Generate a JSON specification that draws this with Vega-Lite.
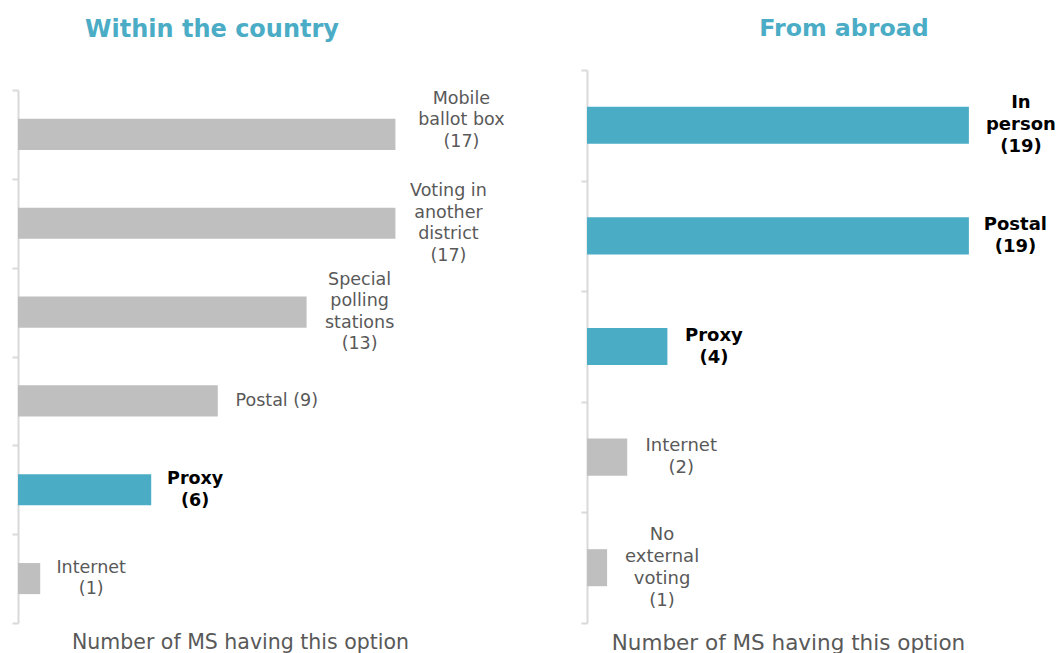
{
  "$schema": "https://vega.github.io/schema/vega-lite/v6.json",
  "background": "white",
  "padding": {"left": 11, "top": 17, "right": 0, "bottom": 0},
  "config": {
    "font": "DejaVu Sans",
    "view": {"stroke": null},
    "axisY": {
      "labels": false,
      "title": null,
      "domainColor": "#D9D9D9",
      "domainWidth": 2,
      "tickColor": "#D9D9D9",
      "tickWidth": 2,
      "tickSize": 6,
      "tickBand": "extent",
      "grid": false
    },
    "axisX": {
      "labels": false,
      "ticks": false,
      "domain": false,
      "grid": false,
      "titleColor": "#595959",
      "titleFontWeight": "normal",
      "titleFont": "DejaVu Sans",
      "titlePadding": 9
    },
    "title": {"color": "#4BACC6", "fontWeight": "bold", "font": "DejaVu Sans", "anchor": "middle", "offset": 28}
  },
  "spacing": 75,
  "datasets": {
    "d": [
      {"panel": "within", "option": "Mobile ballot box", "value": 17, "hl": "no", "label": "Mobile\nballot box\n(17)"},
      {"panel": "within", "option": "Voting in another district", "value": 17, "hl": "no", "label": "Voting in\nanother\ndistrict\n(17)"},
      {"panel": "within", "option": "Special polling stations", "value": 13, "hl": "no", "label": "Special\npolling\nstations\n(13)"},
      {"panel": "within", "option": "Postal", "value": 9, "hl": "no", "label": "Postal (9)"},
      {"panel": "within", "option": "Proxy", "value": 6, "hl": "yes", "label": "Proxy\n(6)"},
      {"panel": "within", "option": "Internet", "value": 1, "hl": "no", "label": "Internet\n(1)"},
      {"panel": "abroad", "option": "In person", "value": 19, "hl": "yes", "label": "In\nperson\n(19)"},
      {"panel": "abroad", "option": "Postal", "value": 19, "hl": "yes", "label": "Postal\n(19)"},
      {"panel": "abroad", "option": "Proxy", "value": 4, "hl": "yes", "label": "Proxy\n(4)"},
      {"panel": "abroad", "option": "Internet", "value": 2, "hl": "no", "label": "Internet\n(2)"},
      {"panel": "abroad", "option": "No external voting", "value": 1, "hl": "no", "label": "No\nexternal\nvoting\n(1)"}
    ]
  },
  "hconcat": [
    {
      "title": {"text": "Within the country", "dx": -28, "fontSize": 24},
      "width": 444,
      "height": 553,
      "data": {"name": "d"},
      "transform": [{"filter": "datum.panel === 'within'"}],
      "encoding": {
        "y": {
          "field": "option",
          "type": "nominal",
          "sort": ["Mobile ballot box", "Voting in another district", "Special polling stations", "Postal", "Proxy", "Internet"],
          "scale": {"paddingInner": 0, "paddingOuter": 0, "range": [20, 553]}
        },
        "x": {
          "field": "value",
          "type": "quantitative",
          "scale": {"domain": [0, 20], "nice": false},
          "axis": {"title": "Number of MS having this option", "titleFontSize": 20.5}
        }
      },
      "layer": [
        {
          "mark": {"type": "bar", "height": {"band": 0.35}},
          "encoding": {
            "color": {"field": "hl", "type": "nominal", "scale": {"domain": ["no", "yes"], "range": ["#BFBFBF", "#4BACC6"]}, "legend": null}
          }
        },
        {
          "transform": [{"filter": "datum.option === 'Postal'"}],
          "mark": {"type": "text", "align": "center", "baseline": "middle", "dx": 59, "dy": 0, "fontSize": 17.5, "lineHeight": 21.5, "lineBreak": "\n", "color": "#595959"},
          "encoding": {"text": {"field": "label"}}
        },
        {
          "transform": [{"filter": "datum.option === 'Internet'"}],
          "mark": {"type": "text", "align": "center", "baseline": "middle", "dx": 51, "dy": -10.75, "fontSize": 17.5, "lineHeight": 21.5, "lineBreak": "\n", "color": "#595959"},
          "encoding": {"text": {"field": "label"}}
        },
        {
          "transform": [{"filter": "datum.option === 'Mobile ballot box'"}],
          "mark": {"type": "text", "align": "center", "baseline": "middle", "dx": 66, "dy": -35.5, "fontSize": 17.5, "lineHeight": 21.5, "lineBreak": "\n", "color": "#595959"},
          "encoding": {"text": {"field": "label"}}
        },
        {
          "transform": [{"filter": "datum.option === 'Voting in another district' || datum.option === 'Special polling stations'"}],
          "mark": {"type": "text", "align": "center", "baseline": "middle", "dx": 53, "dy": -32.25, "fontSize": 17.5, "lineHeight": 21.5, "lineBreak": "\n", "color": "#595959"},
          "encoding": {"text": {"field": "label"}}
        },
        {
          "transform": [{"filter": "datum.option === 'Proxy'"}],
          "mark": {"type": "text", "align": "center", "baseline": "middle", "dx": 44, "dy": -10.75, "fontSize": 17.5, "fontWeight": "bold", "lineHeight": 21.5, "lineBreak": "\n", "color": "#000000"},
          "encoding": {"text": {"field": "label"}}
        }
      ]
    },
    {
      "title": {"text": "From abroad", "dx": 56, "fontSize": 23.7},
      "width": 402,
      "height": 553,
      "data": {"name": "d"},
      "transform": [{"filter": "datum.panel === 'abroad'"}],
      "encoding": {
        "y": {
          "field": "option",
          "type": "nominal",
          "sort": ["In person", "Postal", "Proxy", "Internet", "No external voting"],
          "scale": {"paddingInner": 0, "paddingOuter": 0}
        },
        "x": {
          "field": "value",
          "type": "quantitative",
          "scale": {"domain": [0, 20], "nice": false},
          "axis": {"title": "Number of MS having this option", "titleFontSize": 21.5}
        }
      },
      "layer": [
        {
          "mark": {"type": "bar", "height": {"band": 0.335}},
          "encoding": {
            "color": {"field": "hl", "type": "nominal", "scale": {"domain": ["no", "yes"], "range": ["#BFBFBF", "#4BACC6"]}, "legend": null}
          }
        },
        {
          "transform": [{"filter": "datum.option === 'In person'"}],
          "mark": {"type": "text", "align": "center", "baseline": "middle", "dx": 52, "dy": -22, "fontSize": 18, "fontWeight": "bold", "lineHeight": 22, "lineBreak": "\n", "color": "#000000"},
          "encoding": {"text": {"field": "label"}}
        },
        {
          "transform": [{"filter": "datum.option === 'Postal' || datum.option === 'Proxy'"}],
          "mark": {"type": "text", "align": "center", "baseline": "middle", "dx": 46.5, "dy": -11, "fontSize": 18, "fontWeight": "bold", "lineHeight": 22, "lineBreak": "\n", "color": "#000000"},
          "encoding": {"text": {"field": "label"}}
        },
        {
          "transform": [{"filter": "datum.option === 'Internet'"}],
          "mark": {"type": "text", "align": "center", "baseline": "middle", "dx": 54, "dy": -11, "fontSize": 18, "lineHeight": 22, "lineBreak": "\n", "color": "#595959"},
          "encoding": {"text": {"field": "label"}}
        },
        {
          "transform": [{"filter": "datum.option === 'No external voting'"}],
          "mark": {"type": "text", "align": "center", "baseline": "middle", "dx": 55, "dy": -33, "fontSize": 18, "lineHeight": 22, "lineBreak": "\n", "color": "#595959"},
          "encoding": {"text": {"field": "label"}}
        }
      ]
    }
  ]
}
